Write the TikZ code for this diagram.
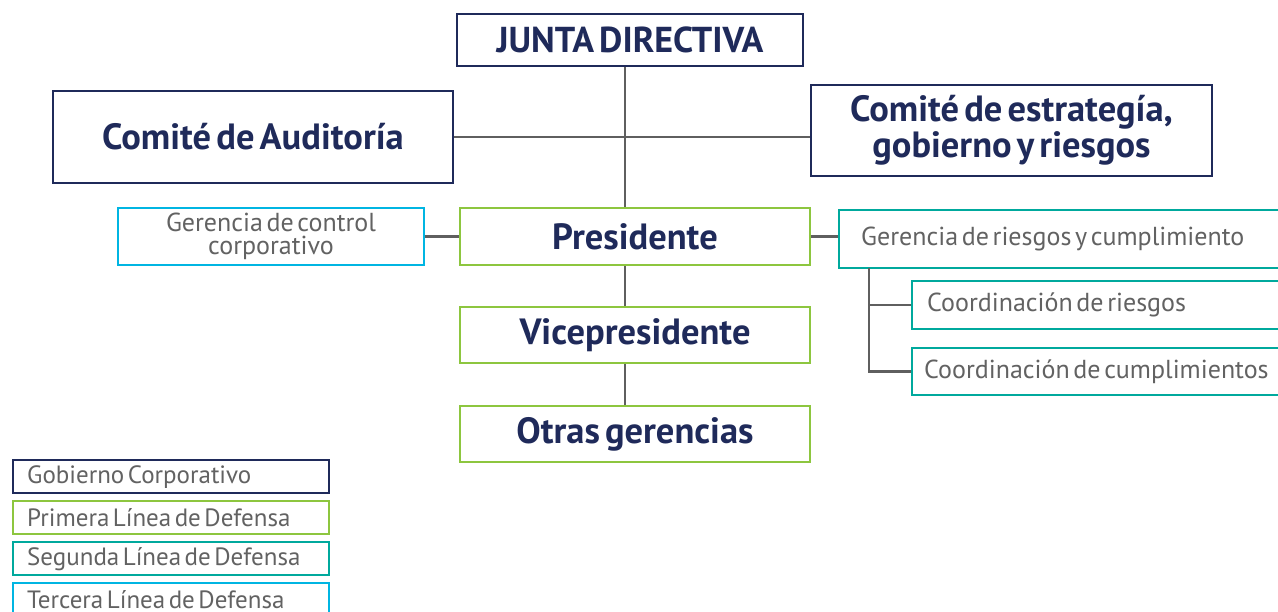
\documentclass[tikz,border=0pt]{standalone}
\usepackage{fontspec}
\setmainfont{PT Sans}
\definecolor{navy}{HTML}{1F2A5A}
\definecolor{lgreen}{HTML}{8DC63F}
\definecolor{teal}{HTML}{00A99D}
\definecolor{cyan}{HTML}{00B5E2}
\definecolor{lgray}{HTML}{5F5F5F}
\definecolor{tgray}{HTML}{626262}
\newcommand{\tightsp}{\spaceskip=0.14em plus 0.03em minus 0.03em\relax}
\newcommand{\bfsz}{\fontsize{36.5}{36}\selectfont\bfseries\tightsp}
\newcommand{\rgsz}{\fontsize{26}{22.5}\selectfont\tightsp}
\begin{document}
\begin{tikzpicture}[x=1pt,y=-1pt,
  box/.style={draw, line width=2.4pt, fill=white, inner sep=0pt, align=flush center},
  gov/.style={box, draw=navy, text=navy, font=\bfsz},
  first/.style={box, draw=lgreen, text=navy, font=\bfsz},
  second/.style={box, draw=teal, text=tgray, font=\rgsz, anchor=west, align=flush left},
  third/.style={box, draw=cyan, text=tgray, font=\rgsz},
  leg/.style={draw, line width=2.4pt, fill=white, text=tgray, inner sep=0pt, anchor=north west, minimum width=316pt, minimum height=33pt, text width=288pt, align=flush left, font=\fontsize{25}{25}\selectfont\tightsp},
  conn/.style={draw=lgray, line width=2.4pt}]
\useasboundingbox (0,0) rectangle (1278,612);
\clip (0,0) rectangle (1278,612);
% main column
\node[gov, minimum width=346pt, minimum height=52pt, font=\fontsize{36}{36}\selectfont\bfseries\tightsp] (jd) at (630,40) {JUNTA DIRECTIVA};
\node[gov, minimum width=400pt, minimum height=92pt] (aud) at (253,137) {Comité de Auditoría};
\node[gov, minimum width=401pt, minimum height=91pt] (est) at (1011.5,130.5) {Comité de estrategía,\\gobierno y riesgos};
\node[first, minimum width=350pt, minimum height=57pt] (pres) at (635,236.5) {Presidente};
\node[first, minimum width=350pt, minimum height=56pt] (vice) at (635,335) {Vicepresidente};
\node[first, minimum width=350pt, minimum height=56pt] (otras) at (635,434) {Otras gerencias};
\node[third, minimum width=306pt, minimum height=57pt] (gcc) at (271,236.5) {Gerencia de control\\corporativo};
% right side (extends past the edge)
\node[second, minimum width=480pt, minimum height=58pt, text width=436pt] (grc) at (838,239) {Gerencia de riesgos y cumplimiento};
\node[second, minimum width=400pt, minimum height=48pt, text width=370pt] (cr) at (911,305) {Coordinación de riesgos};
\node[second, minimum width=400pt, minimum height=47pt, text width=376pt] (cc) at (911,371.5) {Coordinación de cumplimientos};
% connectors
\coordinate (hub) at (625,137);
\coordinate (tr) at (869,268);
\path[conn] (jd.south -| hub) -- (hub |- pres.north);
\path[conn] (aud.east) -- (aud.east -| est.west);
\path[conn] (pres.south -| hub) -- (hub |- vice.north);
\path[conn] (vice.south -| hub) -- (hub |- otras.north);
\path[conn] (gcc.east) -- (gcc.east -| pres.west);
\path[conn] (pres.east) -- (pres.east -| grc.west);
\path[conn] (tr) -- (tr |- cc.west) -- (cc.west);
\path[conn] (tr |- cr.west) -- (cr.west);
% legend
\node[leg, draw=navy] (l1) at (12,459) {Gobierno Corporativo};
\node[leg, draw=lgreen] (l2) at (12,500) {Primera Línea de Defensa};
\node[leg, draw=teal] (l3) at (12,541) {Segunda Línea de Defensa};
\node[leg, draw=cyan] (l4) at (12,582) {Tercera Línea de Defensa};
\end{tikzpicture}
\end{document}
